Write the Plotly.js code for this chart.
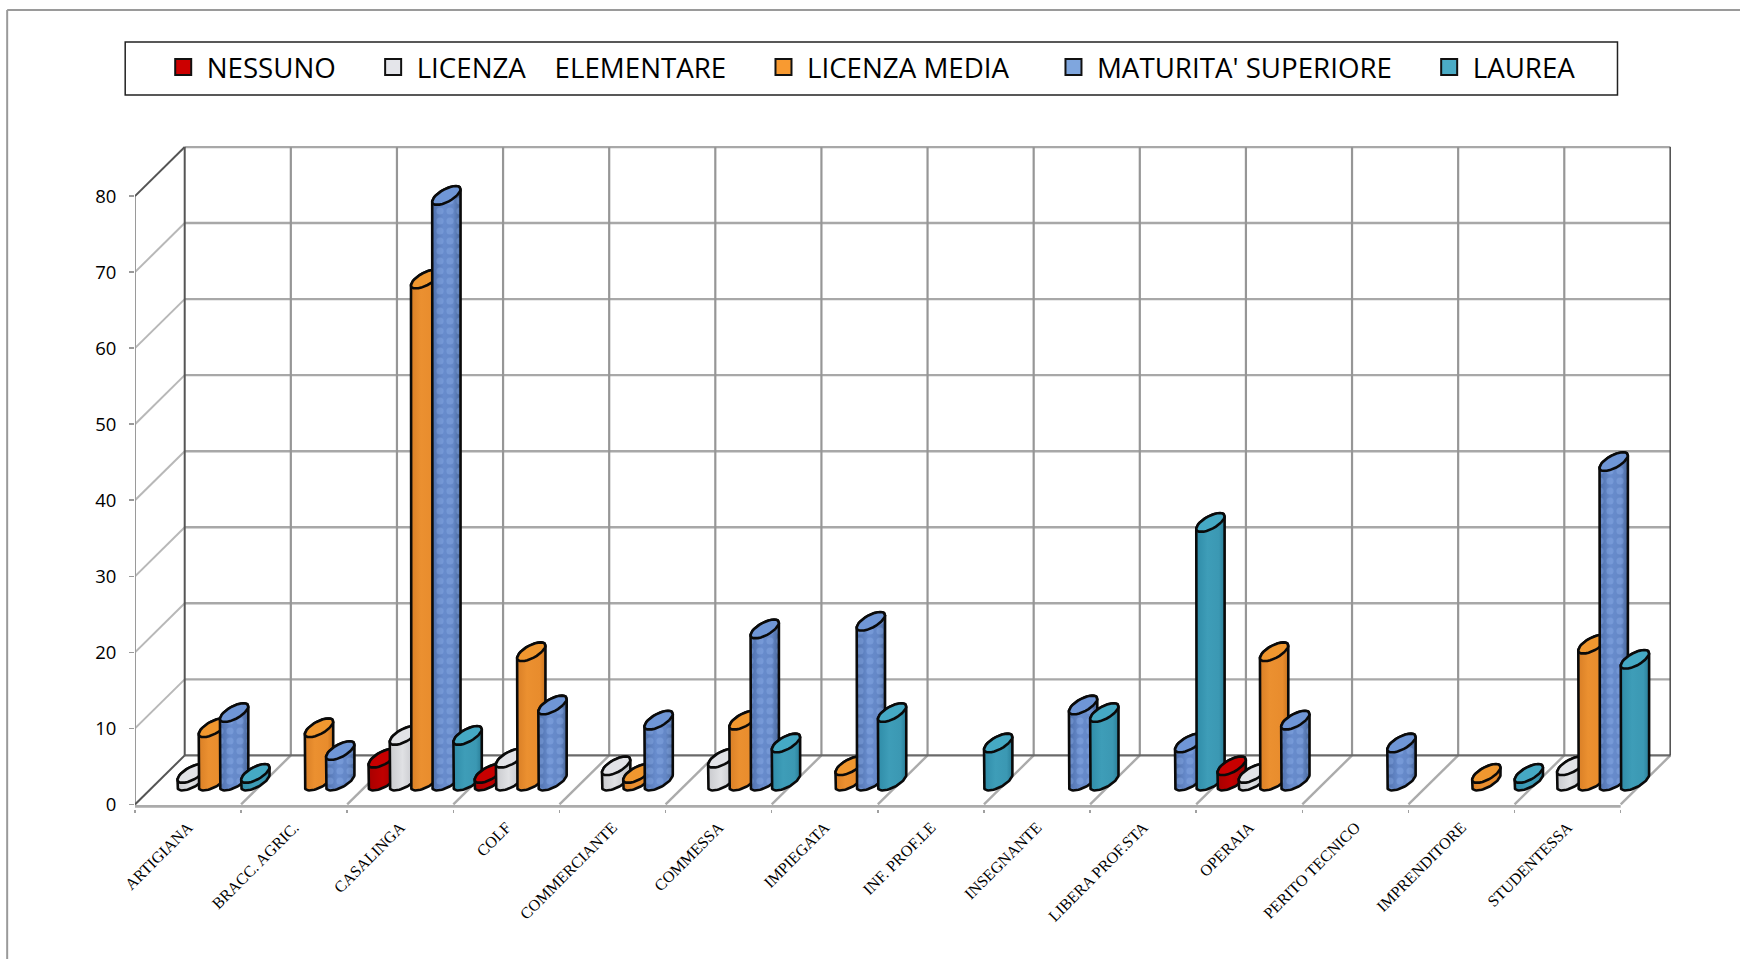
<!DOCTYPE html>
<html>
<head>
<meta charset="utf-8">
<script src="https://cdn.plot.ly/plotly-3.0.1.min.js"></script>
<style>html,body{margin:0;padding:0;background:#fff}#chart{width:1740px;height:959px}</style>
</head>
<body>
<div id="chart"></div>
<script>
// ---- data ----
const categories = ["ARTIGIANA","BRACC. AGRIC.","CASALINGA","COLF","COMMERCIANTE","COMMESSA","IMPIEGATA","INF. PROF.LE","INSEGNANTE","LIBERA PROF.STA","OPERAIA","PERITO TECNICO","IMPRENDITORE","STUDENTESSA"];
const nessuno    = [0,0, 3, 1,0,0,0,0,0,0, 2,0,0,0];
const elementare = [1,0, 6, 3,2,3,0,0,0,0, 1,0,0,2];
const media      = [7,7,66,17,1,8,2,0,0,0,17,0,1,18];
const maturita   = [9,4,77,10,8,20,21,0,10,5,8,5,0,42];
const laurea     = [1,0, 6, 0,0,5,9,5,9,34,0,0,1,16];
const yTicks = [0,10,20,30,40,50,60,70,80];
const seriesNames = ["NESSUNO\u00a0\u00a0\u00a0\u00a0","LICENZA\u00a0\u00a0\u00a0\u00a0ELEMENTARE\u00a0\u00a0\u00a0\u00a0","LICENZA MEDIA\u00a0\u00a0\u00a0\u00a0\u00a0","MATURITA' SUPERIORE\u00a0\u00a0\u00a0\u00a0","LAUREA"];
const seriesValues = [nessuno, elementare, media, maturita, laurea];

// ---- styles ----
const legendColors = ["#CC0000","#E4E5EA","#F89A31","#7FA6DE","#4BACC6"];
const capColors    = ["#C80000","#E2E3E7","#F0972F","#6F96D6","#45A9C4"];
const bodyScales = [
  [[0,"#A80000"],[0.5,"#C00000"],[1,"#A00000"]],
  [[0,"#C9CACE"],[0.45,"#E0E1E4"],[1,"#BDBEC3"]],
  [[0,"#D97F26"],[0.35,"#EB9030"],[0.8,"#E88C2D"],[1,"#CB7520"]],
  [[0,"#4F70AC"],[0.4,"#688CCD"],[0.75,"#6487C6"],[1,"#486699"]],
  [[0,"#2F8CA8"],[0.4,"#3E9DB8"],[0.8,"#3B98B3"],[1,"#2A7E98"]]
];

// ---- page geometry in pixels ----
const W = 1740, H = 959, L = 135.3, R = 1671, T = 146, B = 804;
const xUnit = 106.1, yUnit = 7.6;
const yMin = -0.6;
const xMax = (R - L) / xUnit, yMax = (B - T) / yUnit;
const plotBottom = B - yMin * yUnit;
const depthX = 49.7 / xUnit, depthY = 49 / yUnit;     // oblique depth of the floor
const midX = depthX / 2, midY = depthY / 2 - 0.15;
const slot = 0.2;                                     // 5 bars fill a category
const capA = 10.6 / xUnit;
const capDx = 9.4 / xUnit, capDy = 9.4 / yUnit;
const t0 = Math.atan2(9.4, 10.6);
const steps = 28;

function px(x){return (x - L) / (R - L);}
function py(y){return (plotBottom - y) / (plotBottom - T);}

function pt(cx, cy, t){
  return [cx + capA*Math.cos(t) + capDx*Math.sin(t), cy + capDy*Math.sin(t)];
}
function arc(cx, cy, from, to){
  const out = [];
  for(let k=0;k<=steps;k++){ out.push(pt(cx, cy, from + (to-from)*k/steps)); }
  return out;
}
function toXY(points){ return {x: points.map(p=>p[0]), y: points.map(p=>p[1])}; }

const traces = [];

// ---- grid as line traces through the axes ----
function addLines(segments, color, width){
  const x = [], y = [];
  segments.forEach(s => { x.push(s[0], s[2], null); y.push(s[1], s[3], null); });
  traces.push({type:'scatter', mode:'lines', x, y, cliponaxis:false, showlegend:false, hoverinfo:'skip',
    line:{color, width}});
}
const nCat = categories.length;
const catEdges = Array.from({length:nCat+1}, (_, k) => k);
const yTop = yTicks[yTicks.length-1];

addLines(yTicks.map(v => [0, v, depthX, v + depthY]).slice(1, -1), "#B8B8B8", 2);       // left wall
addLines(yTicks.map(v => [depthX, v + depthY, depthX + nCat, v + depthY]).slice(1), "#A8A8A8", 2.4);     // back wall horizontal
addLines(catEdges.map(k => [k + depthX, depthY, k + depthX, yTop + depthY]).slice(1, -1), "#969696", 2.2); // back wall vertical
addLines(catEdges.map(k => [k, 0, k + depthX, depthY]).slice(1), "#ABABAB", 2.4);       // floor depth lines
addLines([[0, 0, 0, yTop]], "#9A9A9A", 2);                                              // front vertical
addLines([[0, -0.25, nCat, -0.25]], "#ABABAB", 2.8);                                    // front floor edge
addLines([[depthX, depthY, depthX + nCat, depthY]], "#6A6A6A", 2.4);                    // back floor edge
addLines([[0, 0, depthX, depthY],[0, yTop, depthX, yTop + depthY],[depthX, depthY, depthX, yTop + depthY],
          [depthX + nCat, depthY, depthX + nCat, yTop + depthY]], "#555555", 2);        // dark edges

// ---- cylinders ----
categories.forEach((cat, i) => {
  seriesValues.forEach((vals, s) => {
    const v = vals[i];
    if(!v) return;
    const cx = i + slot*(s + 0.5) + midX;
    const top = midY + v, base = midY;
    const body = arc(cx, top, t0, t0 + Math.PI).concat(arc(cx, base, t0 + Math.PI, t0 + 2*Math.PI));
    body.push(body[0]);
    const b = toXY(body);
    if(s === 3){
      traces.push({type:'scatter', mode:'lines', x:b.x, y:b.y, fill:'toself', showlegend:false, hoverinfo:'skip', cliponaxis:false,
        line:{width:0, color:'rgba(0,0,0,0)'}, fillgradient:{type:'horizontal', colorscale:bodyScales[s]}});
      traces.push({type:'scatter', mode:'lines', x:b.x, y:b.y, fill:'toself', showlegend:false, hoverinfo:'skip', cliponaxis:false,
        line:{width:2.6, color:'#0A0A0A'}, fillcolor:'rgba(0,0,0,0)',
        fillpattern:{shape:'.', size:10, solidity:0.4, fgcolor:'rgba(150,185,240,0.32)', bgcolor:'rgba(0,0,0,0)'}});
    } else {
      traces.push({type:'scatter', mode:'lines', x:b.x, y:b.y, fill:'toself', name:seriesNames[s].trim(), showlegend:false,
        hoverinfo:'skip', cliponaxis:false, line:{color:'#0A0A0A', width:2.6},
        fillgradient:{type:'horizontal', colorscale:bodyScales[s]}});
    }
    const c = toXY(arc(cx, top, 0, 2*Math.PI));
    traces.push({type:'scatter', mode:'lines', x:c.x, y:c.y, fill:'toself', name:cat, showlegend:false,
      hoverinfo:'skip', cliponaxis:false, fillcolor:capColors[s], line:{color:'#0A0A0A', width:2.6}});
  });
});

// ---- legend entries ----
seriesNames.forEach((n, s) => {
  traces.push({type:'scatter', mode:'markers', x:[null], y:[null], name:n, hoverinfo:'skip',
    marker:{symbol:'square', size:16, color:legendColors[s], line:{color:'#111', width:2}}});
});

const frame = {color:'#9A9A9A', width:2};
const layout = {
  width:W, height:H, autosize:false,
  paper_bgcolor:'#fff', plot_bgcolor:'rgba(0,0,0,0)',
  margin:{l:L, r:W-R, t:T, b:H-plotBottom, pad:0},
  showlegend:true,
  legend:{orientation:'h', x:px(160), xanchor:'left', y:py(67.5), yanchor:'middle', itemwidth:37,
    bgcolor:'rgba(0,0,0,0)', borderwidth:0, itemclick:false, itemdoubleclick:false,
    font:{family:'"Open Sans", sans-serif', size:27.7, color:'#000'}},
  xaxis:{range:[0,xMax], showgrid:false, zeroline:false, showline:false, fixedrange:true,
    tickmode:'array', tickvals:categories.map((c,i)=>i+0.5), ticktext:categories,
    ticks:'', tickangle:-45, ticklabelstandoff:5,
    tickfont:{family:'"Liberation Serif", serif', size:16, color:'#000'},
    minor:{tickmode:'array', tickvals:catEdges, ticks:'outside', ticklen:3, tickwidth:1.5, tickcolor:'#A0A0A0', showgrid:false}},
  yaxis:{range:[yMin,yMax], showgrid:false, zeroline:false, showline:false, fixedrange:true,
    tickmode:'array', tickvals:yTicks, ticks:'outside', ticklen:5, tickwidth:1.5, tickcolor:'#9A9A9A',
    ticklabelstandoff:9, ticklabelshift:-3.5,
    tickfont:{family:'"Open Sans", sans-serif', size:18.5, color:'#000'}},
  shapes:[
    {type:'line', xref:'paper', yref:'paper', x0:px(7.5), x1:px(7.5), y0:py(10), y1:py(H), line:frame, layer:'below'},
    {type:'line', xref:'paper', yref:'paper', x0:px(7.5), x1:px(W), y0:py(10), y1:py(10), line:frame, layer:'below'},
    {type:'rect', xref:'paper', yref:'paper', x0:px(125.5), x1:px(1617.5), y0:py(42), y1:py(95),
      line:{color:'#222', width:1.5}, fillcolor:'rgba(0,0,0,0)', layer:'below'}
  ]
};
Plotly.newPlot('chart', traces, layout, {displayModeBar:false, staticPlot:true});
</script>
</body>
</html>
